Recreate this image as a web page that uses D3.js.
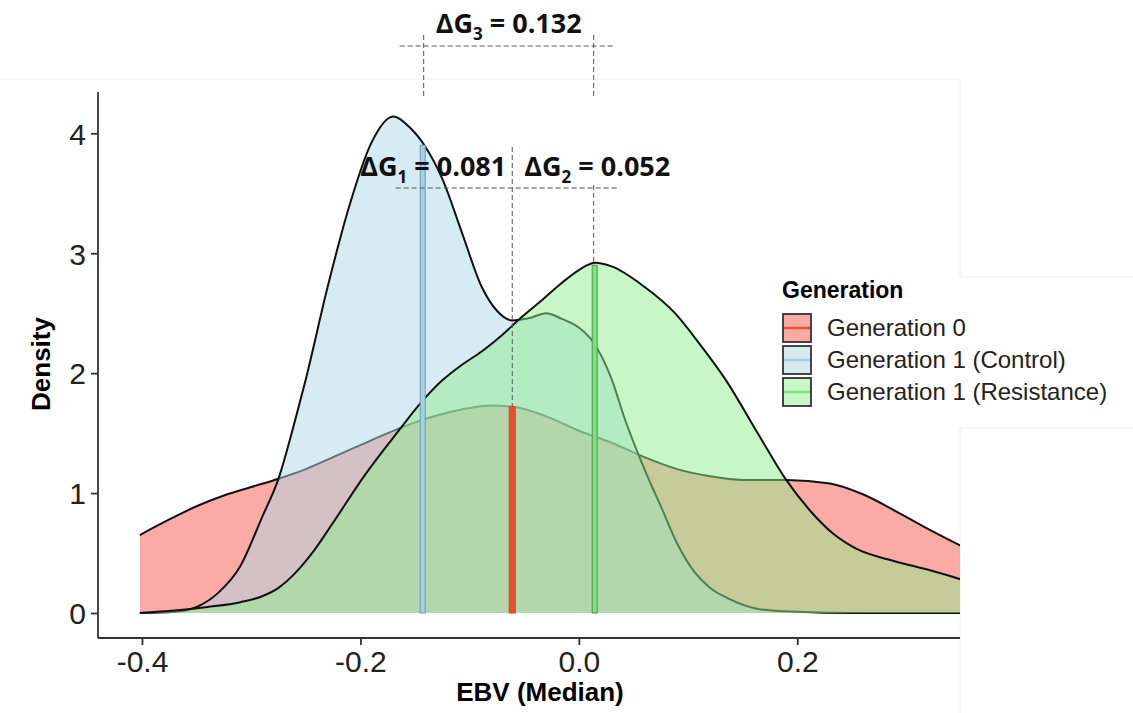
<!DOCTYPE html>
<html lang="en">
<meta charset="utf-8">
<title>EBV density by generation</title>
<style>
    body { margin: 0; background: white; }
    svg  { display: block; }
</style>
<body>
<svg id="canvas"></svg>
<script src="https://d3js.org/d3.v7.min.js"></script>
<script>

    ////////////////////// Data ///////////////////////
    var series_names   = ["Generation 0", "Generation 1 (Control)", "Generation 1 (Resistance)"];

    var gen0_ebv       = [-0.402, -0.375, -0.35, -0.325, -0.3, -0.275, -0.25, -0.225, -0.2, -0.175,
                          -0.15, -0.125, -0.1, -0.08, -0.06, -0.03, 0.0, 0.03, 0.06, 0.09, 0.12,
                          0.15, 0.19, 0.23, 0.26, 0.29, 0.32, 0.35];
    var gen0_density   = [0.65, 0.78, 0.89, 0.98, 1.05, 1.12, 1.20, 1.30, 1.40, 1.50,
                          1.59, 1.66, 1.71, 1.73, 1.72, 1.64, 1.52, 1.42, 1.30, 1.20, 1.14,
                          1.11, 1.11, 1.08, 0.99, 0.85, 0.70, 0.56];

    var ctrl_ebv       = [-0.402, -0.37, -0.35, -0.33, -0.31, -0.29, -0.275, -0.26, -0.25, -0.23, -0.21,
                          -0.19, -0.17, -0.155, -0.14, -0.125, -0.107, -0.089, -0.075, -0.061, -0.045,
                          -0.03, -0.015, 0.0, 0.013, 0.03, 0.042, 0.06, 0.076, 0.09, 0.106, 0.12, 0.137,
                          0.167, 0.2, 0.25, 0.35];
    var ctrl_density   = [0.0, 0.01, 0.05, 0.17, 0.39, 0.80, 1.12, 1.60, 1.95, 2.72, 3.40,
                          3.92, 4.14, 4.05, 3.88, 3.62, 3.17, 2.72, 2.52, 2.44, 2.46,
                          2.50, 2.45, 2.38, 2.26, 1.95, 1.62, 1.20, 0.87, 0.58, 0.34, 0.21, 0.12,
                          0.03, 0.01, 0.0, 0.0];

    var res_ebv        = [-0.402, -0.37, -0.34, -0.31, -0.29, -0.275, -0.26, -0.245, -0.226, -0.196,
                          -0.165, -0.144, -0.125, -0.107, -0.089, -0.07, -0.052, -0.035, -0.016, 0.0,
                          0.015, 0.03, 0.06, 0.088, 0.11, 0.134, 0.165, 0.189, 0.213, 0.233, 0.253,
                          0.29, 0.32, 0.35];
    var res_density    = [0.0, 0.02, 0.05, 0.09, 0.14, 0.21, 0.33, 0.49, 0.74, 1.15,
                          1.52, 1.76, 1.94, 2.07, 2.18, 2.32, 2.47, 2.60, 2.75, 2.86,
                          2.92, 2.89, 2.72, 2.50, 2.25, 1.95, 1.48, 1.12, 0.84, 0.66, 0.54,
                          0.43, 0.36, 0.28];

    // medians (drawn as bars up to the curve)
    var median_ebv     = [-0.061, -0.143, 0.0145];
    var median_top     = [1.72, 3.90, 2.90];

    var x_ticks        = [-0.4, -0.2, 0.0, 0.2];
    var y_ticks        = [0, 1, 2, 3, 4];

    var delta_labels   = [["ΔG", "3", " = 0.132"], ["ΔG", "1", " = 0.081"], ["ΔG", "2", " = 0.052"]];
    ///////////////////////////////////////////////////

    ///////////////// Style Variables /////////////////
    var fill_colors    = ["#F8766D", "#ADD8E6", "#90EE90"];
    var fill_opacity   = [0.62, 0.5, 0.5];
    var median_colors  = ["#e8502f", "#a6cfe6", "#7ee07e"];
    var median_stroke  = ["#d8442a", "#6f9bb3", "#4a9a4a"];
    var median_width   = [6, 5, 5];
    var axis_color     = '#333';
    var tick_font      = '"Liberation Sans", Arial, sans-serif';
    var note_font      = '"Open Sans", "Liberation Sans", sans-serif';
    var frame_color    = '#f0f0f0';
    ///////////////////////////////////////////////////

    var width = 1133, height = 713;
    var canvas = d3.select("#canvas")
        .attr('width',  width)
        .attr('height', height);

    //////////////////// scales ///////////////////////
    var x = d3.scaleLinear().domain([-0.4, 0.2]).range([142, 797.3]);
    var y = d3.scaleLinear().domain([0, 4]).range([613, 133.3]);
    var plot_left = 98, plot_right = 960, plot_top = 92, axis_y = 638;
    ///////////////////////////////////////////////////

    ////////////// faint frame lines (paste edges) //////////////
    var frame = [[0, 79, 960, 79], [960, 79, 960, 277], [960, 277, 1133, 277],
                 [960, 428, 1133, 428], [960, 428, 960, 713]];
    canvas.append("g").selectAll("line").data(frame).join("line")
        .attr('x1', d => d[0]).attr('y1', d => d[1])
        .attr('x2', d => d[2]).attr('y2', d => d[3])
        .attr('stroke', frame_color).attr('stroke-width', 1);

    canvas.append("clipPath").attr('id', 'plotclip')
        .append("rect").attr('x', plot_left).attr('y', 0)
        .attr('width', plot_right - plot_left).attr('height', axis_y);

    var plot = canvas.append("g").attr('clip-path', 'url(#plotclip)');

    ///////////////////// densities ///////////////////
    var series = [
        d3.zip(gen0_ebv, gen0_density),
        d3.zip(ctrl_ebv, ctrl_density),
        d3.zip(res_ebv,  res_density)
    ];

    var area = d3.area()
        .x(d => x(d[0])).y0(y(0)).y1(d => y(d[1]))
        .curve(d3.curveMonotoneX);
    var line = d3.line()
        .x(d => x(d[0])).y(d => y(d[1]))
        .curve(d3.curveMonotoneX);

    series.forEach(function (s, i) {
        plot.append("path")
            .attr('d', area(s))
            .attr('fill', fill_colors[i])
            .attr('fill-opacity', fill_opacity[i]);
        plot.append("path")
            .attr('d', line(s))
            .attr('fill', 'none')
            .attr('stroke', '#111')
            .attr('stroke-width', 2);
    });

    ///////////////////// medians /////////////////////
    plot.selectAll("rect.median").data(median_ebv).join("rect")
        .attr('class', 'median')
        .attr('x', (d, i) => x(d) - median_width[i] / 2)
        .attr('width', (d, i) => median_width[i])
        .attr('y', (d, i) => y(median_top[i]))
        .attr('height', (d, i) => y(0) - y(median_top[i]))
        .attr('fill', (d, i) => median_colors[i])
        .attr('stroke', (d, i) => median_stroke[i])
        .attr('stroke-width', 1);

    /////////////////////// axes //////////////////////
    var xAxis = canvas.append("g").attr('transform', 'translate(0,' + axis_y + ')')
        .call(d3.axisBottom(x).tickValues(x_ticks).tickFormat(d => d.toFixed(1))
              .tickSize(7).tickSizeOuter(0));
    xAxis.select(".domain").attr('d', 'M' + plot_left + ',0H' + plot_right);
    var yAxis = canvas.append("g").attr('transform', 'translate(' + plot_left + ',0)')
        .call(d3.axisLeft(y).tickValues(y_ticks).tickFormat(d3.format("d"))
              .tickSize(7).tickSizeOuter(0));
    yAxis.select(".domain").attr('d', 'M0,' + plot_top + 'V' + axis_y);

    canvas.selectAll(".domain, .tick line")
        .attr('stroke', axis_color).attr('stroke-width', 1.8);
    canvas.selectAll(".tick text")
        .attr('fill', '#222')
        .style('font-family', tick_font)
        .style('font-size', '30px');
    xAxis.selectAll(".tick text").attr('dy', null).attr('y', 34);
    yAxis.selectAll(".tick text").attr('x', -12).attr('dy', '0.36em');

    canvas.append("text")
        .attr('x', 540).attr('y', 701)
        .attr('text-anchor', 'middle')
        .style('font-family', tick_font).style('font-weight', 'bold').style('font-size', '26px')
        .text("EBV (Median)");
    canvas.append("text")
        .attr('transform', 'translate(50,364) rotate(-90)')
        .attr('text-anchor', 'middle')
        .style('font-family', tick_font).style('font-weight', 'bold').style('font-size', '26px')
        .text("Density");

    ////////////////////// legend /////////////////////
    var legend = canvas.append("g").attr('transform', 'translate(783,283)');
    legend.append("text")
        .attr('x', -1).attr('y', 15)
        .style('font-family', tick_font).style('font-weight', 'bold').style('font-size', '23px')
        .text("Generation");
    var key = legend.selectAll("g.key").data(series_names).join("g")
        .attr('class', 'key')
        .attr('transform', (d, i) => 'translate(0,' + (31 + i * 32) + ')');
    key.append("rect").attr('width', 28).attr('height', 28).attr('fill', 'white');
    key.append("rect")
        .attr('width', 28).attr('height', 28)
        .attr('fill', (d, i) => fill_colors[i])
        .attr('fill-opacity', (d, i) => fill_opacity[i])
        .attr('stroke', '#333').attr('stroke-width', 1.8);
    key.append("line")
        .attr('x1', 1).attr('x2', 27).attr('y1', 14).attr('y2', 14)
        .attr('stroke', (d, i) => median_colors[i]).attr('stroke-width', 2.5);
    key.append("text")
        .attr('x', 44).attr('y', 22)
        .attr('fill', '#222')
        .style('font-family', tick_font).style('font-size', '24px')
        .text(d => d);

    //////////////////// annotations //////////////////
    var bx = x(median_ebv[1]), rx = x(median_ebv[0]), gx = x(median_ebv[2]);
    var dashes = [
        [bx - 23, 46, gx + 19, 46],            // ΔG3 bracket
        [bx + 1, 35, bx + 1, 98],
        [gx - 1, 35, gx - 1, 98],
        [bx - 27, 188, gx + 24, 188],          // ΔG1 / ΔG2 bracket
        [rx, 147, rx, y(median_top[0])],
        [gx - 1, 185, gx - 1, y(median_top[2])]
    ];
    canvas.append("g").selectAll("line").data(dashes).join("line")
        .attr('x1', d => d[0]).attr('y1', d => d[1])
        .attr('x2', d => d[2]).attr('y2', d => d[3])
        .attr('stroke', '#555').attr('stroke-width', 1)
        .attr('stroke-dasharray', '5,3');

    var note_pos = [[(bx + gx) / 2, 33, 'middle'], [rx - 6, 176, 'end'], [rx + 12, 176, 'start']];
    delta_labels.forEach(function (lab, i) {
        var t = canvas.append("text")
            .attr('x', note_pos[i][0]).attr('y', note_pos[i][1])
            .attr('text-anchor', note_pos[i][2])
            .style('font-family', note_font).style('font-weight', 'bold').style('font-size', '27px')
            .attr('fill', '#111');
        t.append("tspan").text(lab[0]);
        t.append("tspan").attr('dy', 7).style('font-size', '17px').text(lab[1]);
        t.append("tspan").attr('dy', -7).text(lab[2]);
    });

</script>
</body>
</html>
